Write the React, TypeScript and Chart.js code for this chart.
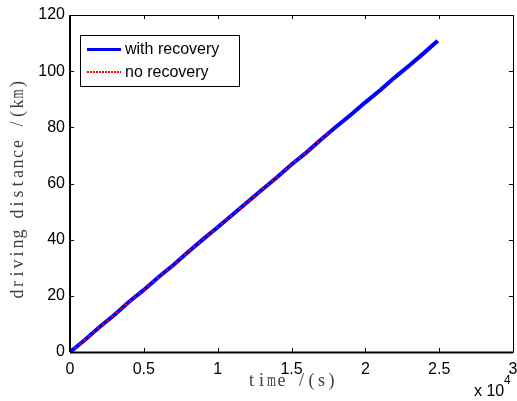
import React, { useEffect, useRef } from "react";
import { Chart, registerables } from "chart.js";

Chart.register(...registerables);

const timesWith = [0, 1000, 2000, 3000, 4000, 5000, 6000, 7000, 8000, 9000, 10000, 11000, 12000, 13000, 14000, 15000, 16000, 17000, 18000, 19000, 20000, 21000, 22000, 23000, 24000, 24900];
const distWith = [0, 4.3, 8.9, 13.2, 17.9, 22.1, 26.7, 31.0, 35.6, 40.1, 44.4, 48.9, 53.3, 57.8, 62.1, 66.8, 71.0, 75.7, 80.1, 84.4, 88.9, 93.2, 97.8, 102.1, 106.6, 110.8];
const timesNo = [0, 1000, 2000, 3000, 4000, 5000, 6000, 7000, 8000, 9000, 10000, 11000, 12000, 13000, 14000, 15000, 16000, 17000, 17700];
const distNo = [0, 4.3, 8.9, 13.2, 17.9, 22.1, 26.7, 31.0, 35.6, 40.1, 44.4, 48.9, 53.3, 57.8, 62.1, 66.8, 71.0, 75.7, 78.8];
const xTicks = [0, 5000, 10000, 15000, 20000, 25000, 30000];
const yTicks = [0, 20, 40, 60, 80, 100, 120];
const seriesLabels = ["with recovery", "no recovery"];
const xTitle = "time /(s)";
const yTitle = "driving distance /(km)";
const BLUE = "#0000ff";
const RED = "#ff0000";

function monoText(ctx: CanvasRenderingContext2D, text: string, cx: number, cy: number, cell: number) {
  const start = cx - (text.length * cell) / 2;
  for (let i = 0; i < text.length; i++) {
    const ch = text[i];
    const w = ctx.measureText(ch).width;
    const maxW = cell - 1;
    const sx = w > maxW ? maxW / w : 1;
    ctx.save();
    ctx.translate(start + cell * (i + 0.5), cy);
    ctx.scale(sx, 1);
    ctx.fillText(ch, 0, 0);
    ctx.restore();
  }
}

const framePlugin = {
  id: "frame",
  afterDraw(chart: any) {
    const ctx = chart.ctx;
    const { left, right, top, bottom } = chart.chartArea;
    const xs = chart.scales.x;
    const ys = chart.scales.y;
    ctx.save();
    ctx.strokeStyle = "#000";
    ctx.lineWidth = 1;
    ctx.beginPath();
    ctx.rect(Math.round(left) + 0.5, Math.round(top) + 0.5, Math.round(right - left), Math.round(bottom - top));
    ctx.stroke();
    ctx.beginPath();
    xTicks.forEach((v) => {
      const px = Math.round(xs.getPixelForValue(v)) + 0.5;
      ctx.moveTo(px, bottom);
      ctx.lineTo(px, bottom - 4);
      ctx.moveTo(px, top);
      ctx.lineTo(px, top + 4);
    });
    yTicks.forEach((v) => {
      const py = Math.round(ys.getPixelForValue(v)) + 0.5;
      ctx.moveTo(left, py);
      ctx.lineTo(left + 4, py);
      ctx.moveTo(right, py);
      ctx.lineTo(right - 4, py);
    });
    ctx.stroke();
    ctx.lineWidth = 2;
    ctx.beginPath();
    ctx.moveTo(left, Math.round(bottom) + 0.5);
    ctx.lineTo(right, Math.round(bottom) + 0.5);
    ctx.moveTo(Math.round(left), top);
    ctx.lineTo(Math.round(left), bottom);
    ctx.stroke();

    // x 10^4
    ctx.fillStyle = "#000";
    ctx.font = "16px 'Liberation Sans', Arial, sans-serif";
    ctx.textBaseline = "alphabetic";
    ctx.textAlign = "left";
    ctx.fillText("x 10", 474, 396);
    ctx.font = "12px 'Liberation Sans', Arial, sans-serif";
    ctx.fillText("4", 504, 384);

    // axis titles (monospaced serif, SimSun-like)
    ctx.fillStyle = "#404040";
    ctx.font = "18px 'Liberation Serif', 'DejaVu Serif', serif";
    ctx.textAlign = "center";
    ctx.textBaseline = "middle";
    monoText(ctx, xTitle, (left + right) / 2, 381, 10);
    ctx.save();
    ctx.translate(18, 189);
    ctx.rotate(-Math.PI / 2);
    monoText(ctx, yTitle, 0, 0, 10);
    ctx.restore();

    // legend
    const lx = 80, ly = 35, lw = 159, lh = 51;
    ctx.fillStyle = "#fff";
    ctx.fillRect(lx, ly, lw, lh);
    ctx.strokeStyle = "#000";
    ctx.lineWidth = 1;
    ctx.strokeRect(lx + 0.5, ly + 0.5, lw, lh);
    const ds = chart.data.datasets;
    ctx.lineWidth = 3;
    ctx.strokeStyle = BLUE;
    ctx.beginPath();
    ctx.moveTo(87, 49.5);
    ctx.lineTo(121, 49.5);
    ctx.stroke();
    ctx.lineWidth = 2;
    ctx.strokeStyle = RED;
    ctx.setLineDash([2, 1]);
    ctx.beginPath();
    ctx.moveTo(87, 72);
    ctx.lineTo(121, 72);
    ctx.stroke();
    ctx.setLineDash([]);
    ctx.fillStyle = "#000";
    ctx.font = "16px 'Liberation Sans', Arial, sans-serif";
    ctx.textAlign = "left";
    ctx.textBaseline = "middle";
    ctx.fillText(ds[0].label, 125, 50);
    ctx.fillText(ds[1].label, 125, 73);
    ctx.restore();
  },
};

export default function App() {
  const ref = useRef<HTMLCanvasElement>(null);
  useEffect(() => {
    document.body.style.margin = "0";
    const chart = new Chart(ref.current!, {
      type: "line",
      data: {
        datasets: [
          {
            label: seriesLabels[0],
            data: timesWith.map((t, i) => ({ x: t, y: distWith[i] })),
            borderColor: BLUE,
            borderWidth: 4,
            pointRadius: 0,
            fill: false,
            tension: 0,
            order: 2,
          },
          {
            label: seriesLabels[1],
            data: timesNo.map((t, i) => ({ x: t, y: distNo[i] })),
            borderColor: RED,
            borderWidth: 2,
            borderDash: [2, 4],
            pointRadius: 0,
            fill: false,
            tension: 0,
            order: 1,
          },
        ],
      },
      options: {
        animation: false,
        responsive: false,
        layout: { padding: { left: 0, right: 4, top: 15, bottom: 22 } },
        plugins: { legend: { display: false }, tooltip: { enabled: false } },
        scales: {
          x: {
            type: "linear",
            min: 0,
            max: 30000,
            afterBuildTicks: (s: any) => { s.ticks = xTicks.map((v) => ({ value: v })); },
            afterFit: (s: any) => { s.height = 27; s.paddingRight = 0; s.paddingLeft = 0; },
            ticks: {
              color: "#000",
              font: { family: "'Liberation Sans', Arial, sans-serif", size: 16 },
              padding: 8,
              maxRotation: 0,
              callback: (v: any) => String(Number(v) / 10000),
            },
            grid: { display: false, drawTicks: false },
            border: { display: false },
          },
          y: {
            type: "linear",
            min: 0,
            max: 120,
            afterBuildTicks: (s: any) => { s.ticks = yTicks.map((v) => ({ value: v })); },
            afterFit: (s: any) => { s.width = 70; s.paddingTop = 0; s.paddingBottom = 0; },
            ticks: {
              color: "#000",
              font: { family: "'Liberation Sans', Arial, sans-serif", size: 16 },
              padding: 5,
            },
            grid: { display: false, drawTicks: false },
            border: { display: false },
          },
        },
      },
      plugins: [framePlugin],
    });
    return () => chart.destroy();
  }, []);
  return (
    <div style={{ width: 517, height: 401, background: "#fff" }}>
      <canvas ref={ref} width={517} height={401} style={{ display: "block" }} />
    </div>
  );
}
